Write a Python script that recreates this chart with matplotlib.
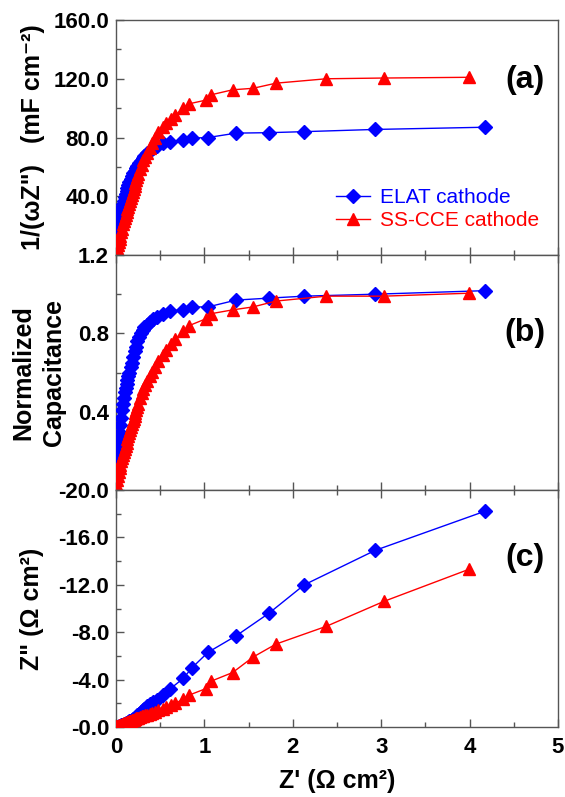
import matplotlib
matplotlib.use('Agg')
import matplotlib.pyplot as plt
from matplotlib.ticker import MultipleLocator, FixedLocator, FixedFormatter

plt.rcParams['font.family'] = ['Liberation Sans', 'DejaVu Sans']

# ELAT cathode (blue diamonds)
elat_zre = [0.0, 0.01, 0.02, 0.03, 0.04, 0.05, 0.06, 0.07, 0.08, 0.09, 0.10, 0.11, 0.12, 0.13,
            0.14, 0.15, 0.165, 0.18, 0.195, 0.21, 0.225, 0.24, 0.26, 0.28, 0.30, 0.32, 0.35, 0.38,
            0.42, 0.46, 0.53, 0.61, 0.76, 0.86, 1.04, 1.36, 1.73, 2.13, 2.93, 4.17]
elat_cap = [10, 13, 17, 20, 24, 27, 30, 32.5, 35, 37, 39.5, 41.5, 43.5, 45.5,
            47.5, 49.5, 52, 54, 56, 57.5, 59, 60.5, 62.5, 64, 66, 67.5, 69.5, 71,
            73, 74.5, 76, 77, 78.3, 79.6, 80, 83, 83.3, 84, 85.5, 87]
elat_norm = [0.11, 0.16, 0.21, 0.25, 0.29, 0.33, 0.37, 0.41, 0.44, 0.47, 0.50, 0.52, 0.54, 0.56,
             0.58, 0.60, 0.63, 0.65, 0.68, 0.71, 0.73, 0.76, 0.78, 0.80, 0.815, 0.83, 0.845, 0.86,
             0.875, 0.885, 0.90, 0.915, 0.92, 0.935, 0.935, 0.97, 0.98, 0.99, 1.0, 1.018]
elat_zim = [0.1, 0.05, 0.0, -0.05, -0.08, -0.1, -0.13, -0.16, -0.19, -0.22, -0.26, -0.3, -0.34, -0.38,
            -0.42, -0.47, -0.54, -0.62, -0.7, -0.79, -0.88, -0.98, -1.1, -1.25, -1.4, -1.55, -1.75, -1.95,
            -2.1, -2.3, -2.7, -3.2, -4.1, -5.0, -6.3, -7.7, -9.6, -12.0, -14.9, -18.2]

# SS-CCE cathode (red triangles)
sscce_zre = [0.0, 0.01, 0.02, 0.03, 0.04, 0.05, 0.06, 0.07, 0.08, 0.09, 0.10, 0.11, 0.12, 0.13,
             0.14, 0.15, 0.16, 0.17, 0.18, 0.19, 0.20, 0.21, 0.22, 0.23, 0.24, 0.25, 0.27, 0.29,
             0.31, 0.33, 0.35, 0.38, 0.41, 0.44, 0.48, 0.53, 0.57, 0.62, 0.67, 0.76, 0.83, 1.02,
             1.07, 1.32, 1.55, 1.81, 2.38, 3.03, 3.99]
sscce_cap = [3, 4.5, 6.5, 9, 11, 13, 15.5, 18, 21, 23, 25.5, 27.5, 29.5, 31.5,
             33, 35, 37, 39, 41, 43, 45, 47, 49, 51, 53, 55, 58.5, 61.5,
             64.5, 67, 69.5, 73, 76.5, 80, 83.5, 87, 90, 92.5, 95, 100, 103, 105.5,
             109, 112.5, 113.5, 117, 120, 120.5, 121]
sscce_norm = [0.03, 0.05, 0.07, 0.09, 0.11, 0.13, 0.15, 0.165, 0.18, 0.195, 0.21, 0.225, 0.24, 0.26,
              0.275, 0.29, 0.305, 0.32, 0.335, 0.35, 0.365, 0.38, 0.395, 0.41, 0.425, 0.44, 0.47, 0.495,
              0.515, 0.535, 0.555, 0.58, 0.605, 0.63, 0.66, 0.69, 0.715, 0.745, 0.77, 0.81, 0.84, 0.875,
              0.90, 0.92, 0.935, 0.965, 0.99, 0.99, 1.005]
sscce_zim = [-0.05, -0.08, -0.1, -0.13, -0.15, -0.18, -0.21, -0.24, -0.27, -0.3, -0.33, -0.36, -0.39, -0.42,
             -0.45, -0.48, -0.51, -0.54, -0.57, -0.6, -0.63, -0.66, -0.69, -0.72, -0.75, -0.78, -0.84, -0.9,
             -0.95, -1.0, -1.05, -1.13, -1.2, -1.28, -1.4, -1.55, -1.7, -1.85, -2.0, -2.35, -2.7, -3.25,
             -3.85, -4.6, -5.9, -7.0, -8.5, -10.6, -13.3]

BLUE = '#0000FF'
RED = '#FF0000'
FRAME = '#555555'

fig = plt.figure(figsize=(5.65, 7.97), dpi=100)
L, W = 0.2053, 0.7823
ax_a = fig.add_axes([L, 0.680, W, 0.2949])
ax_b = fig.add_axes([L, 0.3852, W, 0.2948])
ax_c = fig.add_axes([L, 0.0878, W, 0.2974])

series = [
    (ax_a, elat_cap, sscce_cap),
    (ax_b, elat_norm, sscce_norm),
    (ax_c, elat_zim, sscce_zim),
]
for ax, yb, yr in series:
    ax.plot(elat_zre, yb, '-', color=BLUE, lw=1.0, marker='D', ms=7,
            mec=BLUE, mfc=BLUE, label='ELAT cathode', zorder=3)
    ax.plot(sscce_zre, yr, '-', color=RED, lw=1.0, marker='^', ms=8,
            mec=RED, mfc=RED, label='SS-CCE cathode', zorder=3)
    ax.set_xlim(0, 5)
    ax.xaxis.set_major_locator(MultipleLocator(1))
    ax.xaxis.set_minor_locator(MultipleLocator(0.5))
    for s in ax.spines.values():
        s.set_color(FRAME)
        s.set_linewidth(1.0)
    ax.tick_params(which='both', direction='in', color=FRAME, width=1.0,
                   right=False, labelsize=16)
    ax.tick_params(which='major', length=6)
    ax.tick_params(which='minor', length=3.5)
    ax.tick_params(axis='y', pad=5)
    for lab in ax.get_yticklabels():
        lab.set_fontweight('bold')

# panel (a)
ax_a.set_ylim(0, 160)
ax_a.yaxis.set_major_locator(FixedLocator([40, 80, 120, 160]))
ax_a.yaxis.set_major_formatter(FixedFormatter(['40.0', '80.0', '120.0', '160.0']))
ax_a.yaxis.set_minor_locator(MultipleLocator(20))
ax_a.tick_params(axis='x', which='both', top=False, bottom=True, labelbottom=False)
ax_a.set_ylabel('1/(ωZ")   (mF cm⁻²)', fontsize=18, fontweight='bold', labelpad=6)
ax_a.text(0.925, 0.745, '(a)', transform=ax_a.transAxes, ha='center', va='center',
          fontsize=23, fontweight='bold')
leg = ax_a.legend(loc='lower right', bbox_to_anchor=(1.0, 0.025), frameon=False,
                  fontsize=15, handlelength=1.6, handletextpad=0.5, labelspacing=0.2)
for txt, c in zip(leg.get_texts(), [BLUE, RED]):
    txt.set_color(c)

# panel (b)
ax_b.set_ylim(0, 1.2)
ax_b.yaxis.set_major_locator(FixedLocator([0.4, 0.8, 1.2]))
ax_b.yaxis.set_major_formatter(FixedFormatter(['0.4', '0.8', '1.2']))
ax_b.yaxis.set_minor_locator(MultipleLocator(0.2))
ax_b.tick_params(axis='x', which='both', top=True, bottom=True, labelbottom=False)
ax_b.set_ylabel('Normalized\nCapacitance', fontsize=18, fontweight='bold',
                labelpad=9, linespacing=1.3)
ax_b.text(0.925, 0.67, '(b)', transform=ax_b.transAxes, ha='center', va='center',
          fontsize=23, fontweight='bold')

# panel (c)
ax_c.set_ylim(0, -20)
ax_c.yaxis.set_major_locator(FixedLocator([0, -4, -8, -12, -16, -20]))
ax_c.yaxis.set_major_formatter(FixedFormatter(['-0.0', '-4.0', '-8.0', '-12.0', '-16.0', '-20.0']))
ax_c.yaxis.set_minor_locator(MultipleLocator(2))
ax_c.tick_params(axis='x', which='both', top=True, bottom=True, pad=7)
for lab in ax_c.get_xticklabels():
    lab.set_fontweight('bold')
ax_c.set_ylabel('Z" (Ω cm²)', fontsize=18, fontweight='bold', labelpad=10)
ax_c.set_xlabel("Z' (Ω cm²)", fontsize=18, fontweight='bold', labelpad=8)
ax_c.text(0.925, 0.713, '(c)', transform=ax_c.transAxes, ha='center', va='center',
          fontsize=23, fontweight='bold')

fig.savefig('out.png', dpi=100)
